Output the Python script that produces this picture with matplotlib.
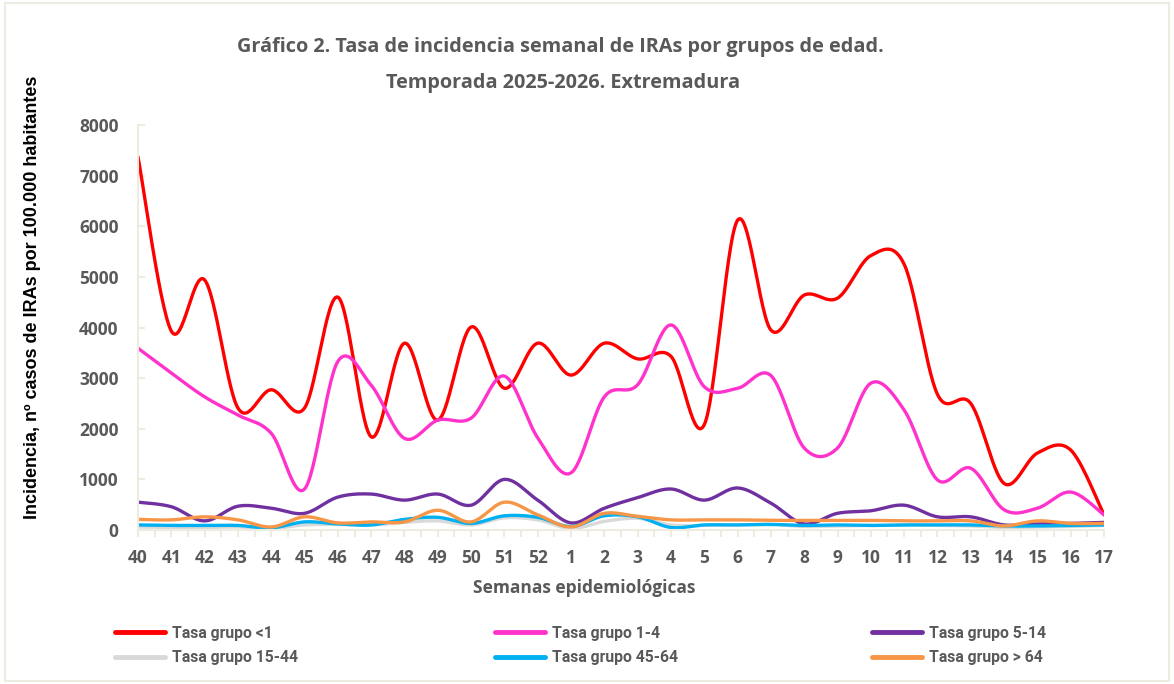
import numpy as np
import matplotlib
matplotlib.use("Agg")
import matplotlib.pyplot as plt
from matplotlib.patches import Rectangle

weeks = ["40", "41", "42", "43", "44", "45", "46", "47", "48", "49", "50", "51", "52",
         "1", "2", "3", "4", "5", "6", "7", "8", "9", "10", "11", "12", "13", "14", "15", "16", "17"]

g_lt1 = [7370, 3930, 4940, 2410, 2770, 2410, 4600, 1840, 3690, 2170, 4010, 2800, 3690,
         3060, 3690, 3380, 3430, 2080, 6120, 3950, 4640, 4580, 5420, 5250, 2680, 2500, 920, 1520, 1580, 300]
g_1_4 = [3590, 3100, 2630, 2270, 1910, 810, 3330, 2860, 1810, 2170, 2210, 3040, 1820,
         1130, 2630, 2870, 4050, 2830, 2800, 3050, 1620, 1620, 2900, 2370, 990, 1220, 400, 430, 750, 300]
g_5_14 = [550, 460, 180, 470, 430, 330, 650, 710, 590, 710, 490, 1000, 590,
          140, 430, 640, 810, 590, 830, 530, 120, 330, 380, 490, 260, 260, 100, 120, 130, 150]
g_15_44 = [60, 50, 50, 60, 30, 100, 110, 100, 150, 180, 100, 240, 200,
           30, 170, 230, 100, 90, 100, 110, 70, 80, 90, 100, 90, 80, 50, 60, 70, 90]
g_45_64 = [100, 90, 90, 90, 40, 160, 120, 100, 210, 250, 130, 280, 250,
           70, 280, 260, 50, 100, 100, 110, 90, 100, 90, 100, 100, 100, 80, 80, 90, 100]
g_gt64 = [210, 200, 260, 200, 60, 260, 140, 160, 160, 390, 160, 550, 300,
          60, 330, 270, 200, 200, 200, 190, 190, 190, 190, 180, 180, 180, 80, 180, 130, 130]

series = [
    ("Tasa grupo <1", g_lt1, "#FF0000"),
    ("Tasa grupo 1-4", g_1_4, "#FF33CC"),
    ("Tasa grupo 5-14", g_5_14, "#7030A0"),
    ("Tasa grupo 15-44", g_15_44, "#D9D9D9"),
    ("Tasa grupo 45-64", g_45_64, "#00B0F0"),
    ("Tasa grupo > 64", g_gt64, "#F79646"),
]


def smooth(xs, ys, n=30):
    xs = np.asarray(xs, float)
    ys = np.asarray(ys, float)
    P = np.column_stack([xs, ys])
    m = len(P)
    out = []
    t = np.linspace(0, 1, n)[:, None]
    for i in range(m - 1):
        p0 = P[i]
        p3 = P[i + 1]
        pm = P[i - 1] if i > 0 else P[i]
        pp = P[i + 2] if i + 2 < m else P[i + 1]
        c1 = p0 + (p3 - pm) / 6.0
        c2 = p3 - (pp - p0) / 6.0
        seg = ((1 - t) ** 3) * p0 + 3 * ((1 - t) ** 2) * t * c1 + 3 * (1 - t) * t ** 2 * c2 + t ** 3 * p3
        if i > 0:
            seg = seg[1:]
        out.append(seg)
    out = np.vstack(out)
    return out[:, 0], out[:, 1]


W, H = 1174, 684
fig = plt.figure(figsize=(W / 100, H / 100), dpi=100)
fig.patch.set_facecolor("white")
fig.add_artist(Rectangle((0.004, 0.004), 0.992, 0.992, transform=fig.transFigure,
                         fill=False, edgecolor="#EEECE1", linewidth=1.5))

ax = fig.add_axes([138 / W, 1 - 530 / H, (1104 - 138) / W, (530 - 125) / H])
x = np.arange(len(weeks))
handles = {}
for name, vals, col in series:
    sx, sy = smooth(x, vals)
    h, = ax.plot(sx, sy, color=col, linewidth=2.4, solid_capstyle="round", label=name)
    handles[name] = h

ax.set_xlim(0, len(weeks) - 1)
ax.set_ylim(0, 8000)
ax.set_yticks(np.arange(0, 8001, 1000))
ax.set_xticks(x)
ax.set_xticks(np.arange(0.5, len(weeks) - 1, 1), minor=True)
ax.set_xticklabels(weeks)
for s in ["top", "right"]:
    ax.spines[s].set_visible(False)
for s in ["left", "bottom"]:
    ax.spines[s].set_color("#EEECE1")
    ax.spines[s].set_linewidth(1.5)
ax.tick_params(axis="x", which="both", direction="out", length=5, color="#EEECE1", width=1.5, pad=9)
ax.tick_params(axis="y", direction="in", length=5, color="#EEECE1", width=1.5, pad=14)
for lab in ax.get_xticklabels() + ax.get_yticklabels():
    lab.set_fontfamily("Open Sans")
    lab.set_fontweight("bold")
    lab.set_fontsize(12.5)
    lab.set_color("#595959")

fig.text(560 / W, 1 - 47 / H, "Gráfico 2. Tasa de incidencia semanal de IRAs por grupos de edad.",
         ha="center", va="center", fontsize=14.3, fontweight="bold", color="#595959", family="Open Sans")
fig.text(563 / W, 1 - 83 / H, "Temporada 2025-2026. Extremadura",
         ha="center", va="center", fontsize=14.3, fontweight="bold", color="#595959", family="Open Sans")
fig.text(584 / W, 1 - 588 / H, "Semanas epidemiológicas",
         ha="center", va="center", fontsize=12.5, fontweight="bold", color="#595959", family="Open Sans")
fig.text(33 / W, 1 - 297 / H, "Incidencia, nº casos de IRAs por 100.000 habitantes",
         ha="center", va="center", rotation=90, fontsize=13, fontweight="bold", color="black",
         family=["Liberation Sans", "DejaVu Sans"])

columns = [
    (115, ["Tasa grupo <1", "Tasa grupo 15-44"]),
    (495, ["Tasa grupo 1-4", "Tasa grupo 45-64"]),
    (872, ["Tasa grupo 5-14", "Tasa grupo > 64"]),
]
for xpix, names in columns:
    leg = fig.legend([handles[k] for k in names], names, loc="center left",
                     bbox_to_anchor=(xpix / W, 1 - 645.5 / H), frameon=False,
                     borderpad=0, borderaxespad=0,
                     handlelength=3.2, handletextpad=0.45, labelspacing=0.62,
                     prop={"family": "Roboto", "weight": "bold", "size": 11.3})
    for t in leg.get_texts():
        t.set_color("#595959")
    for l in leg.get_lines():
        l.set_linewidth(3.5)

fig.savefig("out.png", dpi=100)
